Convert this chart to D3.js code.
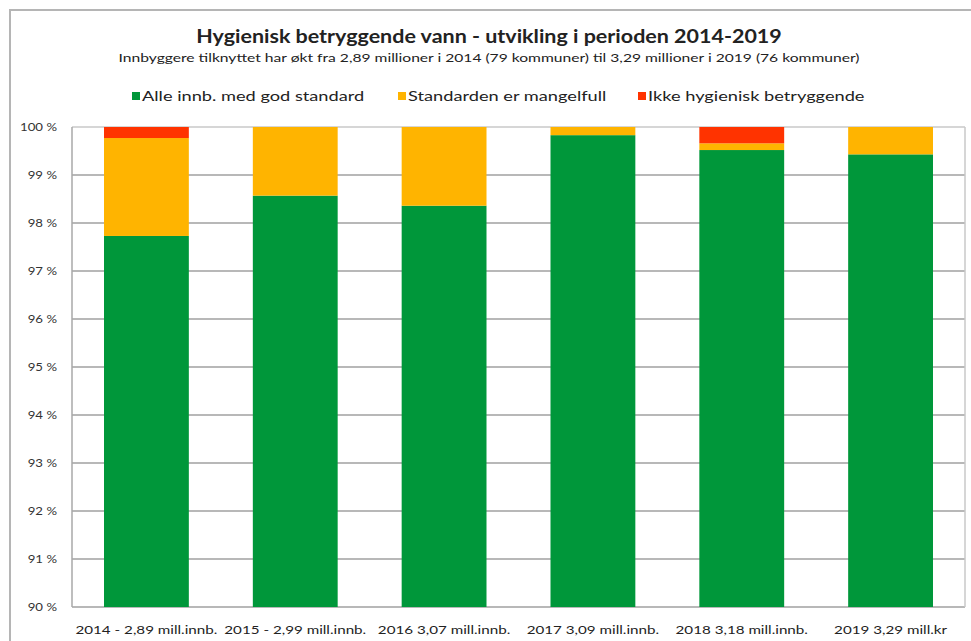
<!DOCTYPE html>
<html>
<head>
<meta charset="utf-8">
<script src="https://cdn.jsdelivr.net/npm/d3@7"></script>
<style>
  body { margin: 0; background: #fff; }
  text { font-family: Lato, "Open Sans", sans-serif; fill: #222; }
</style>
</head>
<body>
<div id="chart"></div>
<script>
// data
const categories = ["2014 - 2,89 mill.innb.", "2015 - 2,99 mill.innb.", "2016 3,07 mill.innb.",
    "2017 3,09 mill.innb.", "2018 3,18 mill.innb.", "2019 3,29 mill.kr"];
const seriesNames = ["Alle innb. med god standard", "Standarden er mangelfull", "Ikke hygienisk betryggende"];
const godStandard = [97.73, 98.57, 98.36, 99.83, 99.52, 99.43];
const mangelfull = [2.04, 1.43, 1.64, 0.17, 0.14, 0.57];
const ikkeBetryggende = [0.23, 0, 0, 0, 0.34, 0];
const yTicks = [90, 91, 92, 93, 94, 95, 96, 97, 98, 99, 100];
const colors = ["#00973a", "#ffb400", "#ff3300"];

const width = 971, height = 641;
const margin = {top: 127, right: 6, bottom: 34, left: 72};

const svg = d3.select("#chart").append("svg")
    .attr("width", width)
    .attr("height", height);

// the reference text is drawn wider than the font, stretch it a bit
function stretch(sel, k) {
    sel.each(function () {
        const len = this.getComputedTextLength();
        d3.select(this)
            .attr("textLength", len * k)
            .attr("lengthAdjust", "spacingAndGlyphs");
    });
}

// outer frame (cut off by the window on the right and bottom)
svg.append("rect")
    .attr("x", 10)
    .attr("y", 10)
    .attr("width", 1000)
    .attr("height", 700)
    .attr("fill", "none")
    .attr("stroke", "#b5b5b5")
    .attr("stroke-width", 2);

const x = d3.scaleBand()
    .domain(categories)
    .range([margin.left, width - margin.right])
    .paddingInner(0.43)
    .paddingOuter(0.215);

const y = d3.scaleLinear()
    .domain([90, 100])
    .range([height - margin.bottom, margin.top]);

// gridlines
svg.append("g")
    .selectAll("line")
    .data(yTicks)
    .join("line")
    .attr("x1", margin.left)
    .attr("x2", width - margin.right)
    .attr("y1", d => y(d))
    .attr("y2", d => y(d))
    .attr("stroke", d => d === 100 ? "#c8c8c8" : "#a0a0a0")
    .attr("stroke-width", 1.6);

// plot border sides
svg.append("line")
    .attr("x1", width - margin.right).attr("x2", width - margin.right)
    .attr("y1", y(100)).attr("y2", y(90))
    .attr("stroke", "#c8c8c8").attr("stroke-width", 1.5);
svg.append("line")
    .attr("x1", margin.left).attr("x2", margin.left)
    .attr("y1", y(100)).attr("y2", y(90))
    .attr("stroke", "#a8a8a8").attr("stroke-width", 1.5);

// stacked bars
const rows = categories.map((c, i) => ({
    cat: c, s0: godStandard[i], s1: mangelfull[i], s2: ikkeBetryggende[i]
}));
const stack = d3.stack().keys(["s0", "s1", "s2"]);
const layers = stack(rows);

svg.append("g")
    .selectAll("g")
    .data(layers)
    .join("g")
    .attr("fill", (d, i) => colors[i])
    .selectAll("rect")
    .data(d => d)
    .join("rect")
    .attr("x", d => x(d.data.cat))
    .attr("width", x.bandwidth())
    .attr("y", d => y(Math.min(100, d[1])))
    .attr("height", d => Math.max(0, y(Math.max(90, d[0])) - y(Math.min(100, d[1]))));

// y axis labels
svg.append("g")
    .selectAll("text")
    .data(yTicks)
    .join("text")
    .attr("x", 57)
    .attr("y", d => y(d) + 4)
    .attr("text-anchor", "end")
    .style("font-size", "11px")
    .style("fill", "#333")
    .text(d => d + " %")
    .call(stretch, 1.2);

// x axis labels
svg.append("g")
    .selectAll("text")
    .data(categories)
    .join("text")
    .attr("x", d => x(d) + x.bandwidth() / 2)
    .attr("y", 634)
    .attr("text-anchor", "middle")
    .style("font-size", "11px")
    .text(d => d)
    .call(stretch, 1.38);

// titles
svg.append("text")
    .attr("x", 489)
    .attr("y", 43)
    .attr("text-anchor", "middle")
    .style("font-size", "19px")
    .style("font-weight", "bold")
    .text("Hygienisk betryggende vann - utvikling i perioden 2014-2019")
    .call(stretch, 1.13);

svg.append("text")
    .attr("x", 489)
    .attr("y", 62)
    .attr("text-anchor", "middle")
    .style("font-size", "11px")
    .text("Innbyggere tilknyttet har økt fra 2,89 millioner i 2014 (79 kommuner) til 3,29 millioner i 2019 (76 kommuner)")
    .call(stretch, 1.42);

// legend
const legendX = [132, 398, 638];
const legend = svg.append("g")
    .selectAll("g")
    .data(seriesNames)
    .join("g")
    .attr("transform", (d, i) => `translate(${legendX[i]},97)`);
legend.append("rect")
    .attr("x", 0).attr("y", -5)
    .attr("width", 8).attr("height", 8)
    .attr("fill", (d, i) => colors[i]);
legend.append("text")
    .attr("x", 10)
    .attr("y", 4)
    .style("font-size", "13px")
    .text(d => d)
    .call(stretch, 1.4);
</script>
</body>
</html>
